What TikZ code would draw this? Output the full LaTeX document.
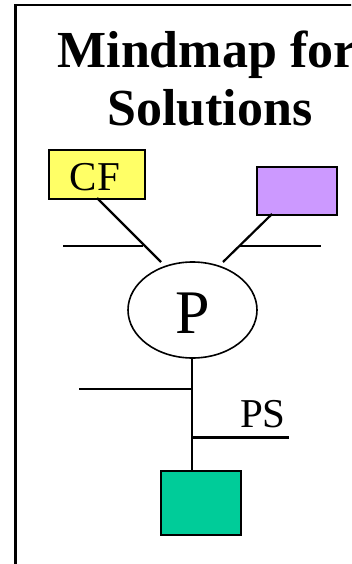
\documentclass[tikz,border=0pt]{standalone}
\usepackage{fontspec}
\setmainfont{Liberation Serif}
\usetikzlibrary{shapes.geometric}
\definecolor{cfyellow}{HTML}{FFFF66}
\definecolor{lilac}{HTML}{CC99FF}
\definecolor{teal}{HTML}{00CC99}
\tikzset{
  leaf/.style={draw=black, line width=2.2pt, rectangle, inner sep=0pt, anchor=north west},
  branch/.style={line width=2.2pt}
}
\begin{document}
\begin{tikzpicture}[x=1pt, y=-1pt]
  \useasboundingbox (0,0) rectangle (351,564);
  \clip (0,0) rectangle (351,564);
  \fill[white] (0,0) rectangle (351,564);
  % slide frame
  \coordinate (fb) at (15.5,564);
  \coordinate (ftl) at (15.5,5);
  \coordinate (ftr) at (355,5);
  \draw[branch] (fb) -- (ftl) -- (ftr);
  % title
  \node[font=\fontsize{52}{58}\selectfont\bfseries, anchor=base] (t1) at (207,68) {Mindmap for};
  \node[font=\fontsize{52}{58}\selectfont\bfseries, anchor=base] (t2) at (210,126) {Solutions};
  % central topic
  \node[draw, ellipse, line width=1.6pt, minimum width=129pt, minimum height=96pt, inner sep=0pt] (p) at (192.5,310) {};
  \node[font=\fontsize{62}{62}\selectfont, anchor=base] (plabel) at (192.5,333) {P};
  % leaves
  \node[leaf, fill=cfyellow, minimum width=96pt, minimum height=49pt] (cf) at (48,149) {};
  \node[font=\fontsize{41}{41}\selectfont, anchor=base] (cftext) at (95,190) {CF};
  \node[leaf, fill=lilac, minimum width=80pt, minimum height=48pt] (pur) at (256,166) {};
  \node[leaf, fill=teal, minimum width=80pt, minimum height=64pt] (gr) at (160,470) {};
  \node[font=\fontsize{41}{41}\selectfont, anchor=base] (ps) at (263,427) {PS};
  % connector end points
  \coordinate (cfend) at (97,198);
  \coordinate (cfp) at (161,262);
  \coordinate (purend) at (272,214);
  \coordinate (purp) at (223,262);
  \coordinate (cfh) at (143,246);
  \coordinate (cfhl) at (63,246);
  \coordinate (purh) at (240,246);
  \coordinate (purhr) at (321,246);
  \coordinate (pbot) at (192,358);
  \coordinate (grtop) at (192,470);
  \coordinate (lh) at (192,389);
  \coordinate (lhl) at (79,389);
  \coordinate (rh) at (192,437.5);
  \coordinate (rhr) at (289,437.5);
  % connectors
  \draw[branch] (cfend) -- (cfp);
  \draw[branch] (purend) -- (purp);
  \draw[branch] (cfhl) -- (cfh);
  \draw[branch] (purh) -- (purhr);
  \draw[branch] (pbot) -- (grtop);
  \draw[branch] (lhl) -- (lh);
  \draw[branch] (rh) -- (rhr);
\end{tikzpicture}
\end{document}
